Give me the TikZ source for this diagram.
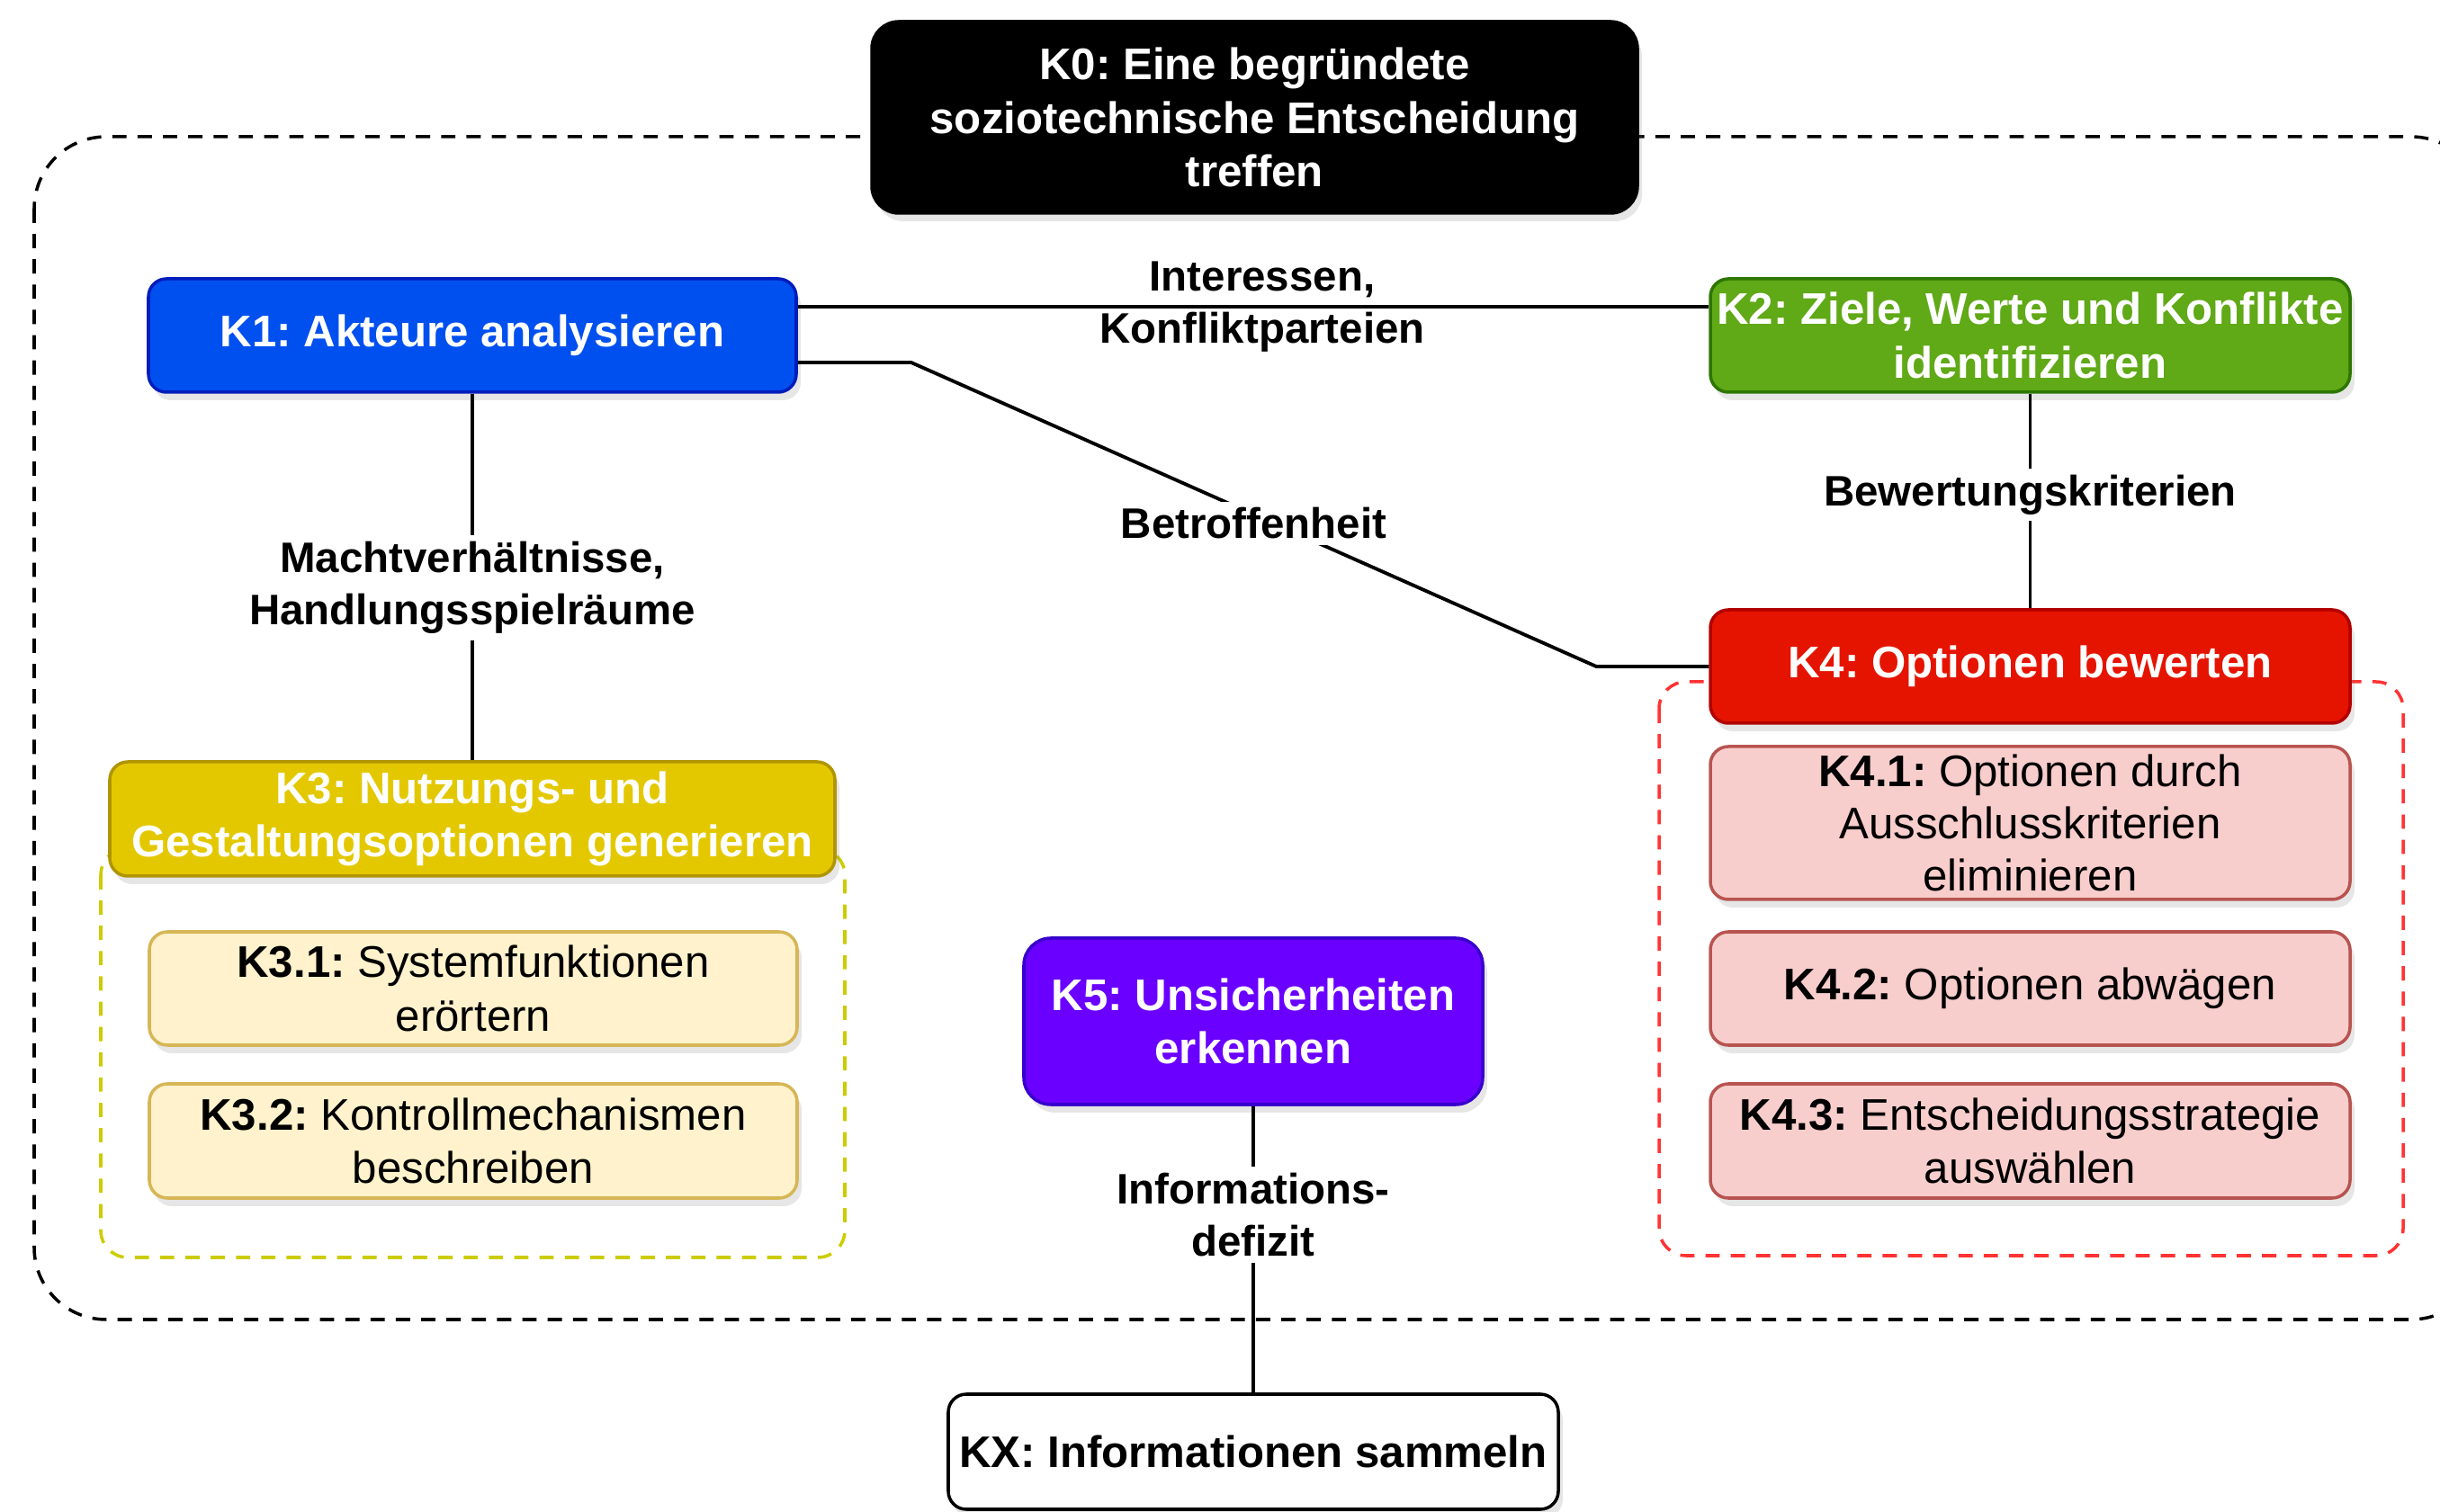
\documentclass[tikz,border=0pt]{standalone}
\usepackage{fontspec}
\setmainfont{Liberation Sans}
\usetikzlibrary{shadows}

\definecolor{kblau}{HTML}{0050EF}
\definecolor{kblaurand}{HTML}{001DBC}
\definecolor{kgruen}{HTML}{60A917}
\definecolor{kgruenrand}{HTML}{2D7600}
\definecolor{kgelb}{HTML}{E3C800}
\definecolor{kgelbrand}{HTML}{B09500}
\definecolor{krot}{HTML}{E51400}
\definecolor{krotrand}{HTML}{B20000}
\definecolor{klila}{HTML}{6A00FF}
\definecolor{klilarand}{HTML}{3700CC}
\definecolor{hellgelb}{HTML}{FFF2CC}
\definecolor{hellgelbrand}{HTML}{D6B656}
\definecolor{hellrot}{HTML}{F8CECC}
\definecolor{hellrotrand}{HTML}{B85450}
\definecolor{gruppegelb}{HTML}{CCCC00}
\definecolor{grupperot}{HTML}{FF3333}

\begin{document}
\frenchspacing
\begin{tikzpicture}[
    haupt/.style 2 args={rectangle, rounded corners=2mm, fill=#1, draw=#2, line width=1pt, text=white, align=center, minimum width=7.11cm, minimum height=1.26cm, inner sep=1pt, font=\fontsize{14}{17}\selectfont\bfseries, drop shadow={opacity=0.2, shadow xshift=0.5mm, shadow yshift=-0.9mm}},
    teil/.style 2 args={rectangle, rounded corners=2mm, fill=#1, draw=#2, line width=1pt, align=center, minimum width=7.2cm, minimum height=1.26cm, inner sep=1pt, font=\fontsize{14}{17}\selectfont, drop shadow={opacity=0.2, shadow xshift=0.5mm, shadow yshift=-0.9mm}},
    gruppe/.style={line width=1pt, dash pattern=on 4.5pt off 3.5pt, rounded corners=3mm},
    link/.style={line width=1.1pt},
    lbl/.style={font=\fontsize{13.5}{16.5}\selectfont\bfseries, align=center, fill=white, inner sep=2pt}
]
    \useasboundingbox (0,0) rectangle (27.12,-16.81);

    % Rahmen und Gruppen
    \draw[gruppe, rounded corners=8mm] (0.38,-1.52) rectangle (27.6,-14.67);
    \draw[gruppe, draw=gruppegelb] (1.12,-9.43) rectangle (9.39,-13.98);
    \draw[gruppe, draw=grupperot] (18.44,-7.58) rectangle (26.71,-13.96);

    % Kompetenzen
    \node[haupt={black}{black}, minimum width=8.51cm, minimum height=2.13cm, rounded corners=3mm] (k0) at (13.945,-1.305) {K0: Eine begründete\\soziotechnische Entscheidung\\treffen};
    \node[haupt={kblau}{kblaurand}, minimum width=7.2cm] (k1) at (5.25,-3.73) {K1: Akteure analysieren};
    \node[haupt={kgruen}{kgruenrand}] (k2) at (22.565,-3.73) {K2: Ziele, Werte und Konflikte\\identifizieren};
    \node[haupt={kgelb}{kgelbrand}, minimum width=8.06cm, minimum height=1.27cm] (k3) at (5.25,-9.105) {K3: Nutzungs- und\\Gestaltungsoptionen generieren};
    \node[haupt={krot}{krotrand}] (k4) at (22.565,-7.41) {K4: Optionen bewerten};
    \node[haupt={klila}{klilarand}, minimum width=5.1cm, minimum height=1.85cm, rounded corners=3mm] (k5) at (13.93,-11.355) {K5: Unsicherheiten\\erkennen};
    \node[haupt={white}{black}, text=black, minimum width=6.78cm, minimum height=1.28cm] (kx) at (13.93,-16.14) {KX: Informationen sammeln};

    % Teilkompetenzen
    \node[teil={hellgelb}{hellgelbrand}] (k31) at (5.26,-10.99) {\textbf{K3.1:} Systemfunktionen\\erörtern};
    \node[teil={hellgelb}{hellgelbrand}, minimum height=1.27cm] (k32) at (5.26,-12.685) {\textbf{K3.2:} Kontrollmechanismen\\beschreiben};
    \node[teil={hellrot}{hellrotrand}, minimum width=7.11cm, minimum height=1.7cm, inner ysep=0pt, font=\fontsize{14}{16.5}\selectfont] (k41) at (22.565,-9.15) {\textbf{K4.1:} Optionen durch\\Ausschlusskriterien\\eliminieren};
    \node[teil={hellrot}{hellrotrand}, minimum width=7.11cm] (k42) at (22.565,-10.99) {\textbf{K4.2:} Optionen abwägen};
    \node[teil={hellrot}{hellrotrand}, minimum width=7.11cm, minimum height=1.27cm] (k43) at (22.565,-12.685) {\textbf{K4.3:} Entscheidungsstrategie\\auswählen};

    % Verbindungen
    \draw[link] ([yshift=3.2mm]k1.east) -- node[lbl, fill=none, xshift=1mm] {Interessen,\\Konfliktparteien} ([yshift=3.2mm]k2.west);
    \draw[link] ([yshift=-3mm]k1.east) -- ++(1.26,0) -- node[lbl, yshift=-1mm] {Betroffenheit} ([xshift=-12.5mm]k4.west) -- (k4.west);
    \draw[link] (k1) -- node[lbl, pos=0.53] {Machtverhältnisse,\\Handlungsspielräume} (k3);
    \draw[link] (k2) -- node[lbl, pos=0.47] {Bewertungskriterien} (k4);
    \draw[link] (k5) -- node[lbl, pos=0.38] {Informations-\\defizit} (kx);
\end{tikzpicture}
\end{document}
